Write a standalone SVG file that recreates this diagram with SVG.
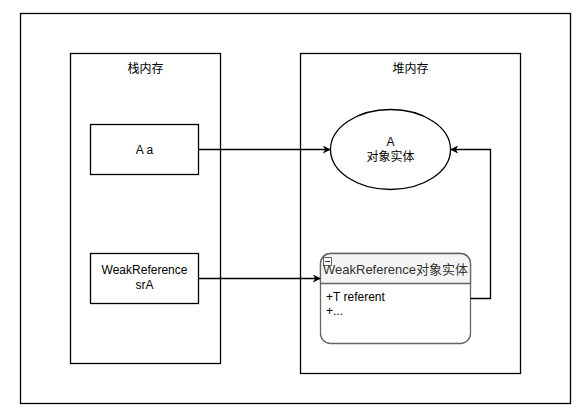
<svg xmlns="http://www.w3.org/2000/svg" width="587" height="413" viewBox="0 0 587 413">
<defs>
<style>
.box{fill:#fff;stroke:#000;stroke-width:1.3}
.t{font-family:"Liberation Sans","Noto Sans CJK SC",sans-serif;font-size:12px;fill:#000;text-anchor:middle}
.edge{fill:none;stroke:#000;stroke-width:1.3}
</style>
<marker id="arr" viewBox="0 0 10 10" refX="9" refY="5" markerWidth="8" markerHeight="8" markerUnits="userSpaceOnUse" orient="auto">
<path d="M0,0 L10,5 L0,10 L3,5 Z" fill="#000"/>
</marker>
</defs>
<rect width="587" height="413" fill="#fff"/>
<g id="outer"><rect class="box" x="20.5" y="13.5" width="550" height="390"/></g>
<g id="stack"><rect class="box" x="70.5" y="53.5" width="150" height="310"/><text class="t" x="145.5" y="73">栈内存</text></g>
<g id="heap"><rect class="box" x="300.5" y="53.5" width="220" height="320"/><text class="t" x="410.5" y="73">堆内存</text></g>
<g id="aa"><rect class="box" x="90.5" y="124.5" width="108" height="50"/><text class="t" x="144.5" y="154">A a</text></g>
<g id="wr"><rect class="box" x="90.5" y="253.5" width="108" height="50"/><text class="t" x="144.5" y="274">WeakReference</text><text class="t" x="144.5" y="289">srA</text></g>
<g id="aobj"><ellipse cx="390.5" cy="149.5" rx="60" ry="40" fill="#fff" stroke="#000" stroke-width="1.3"/><text class="t" x="390.5" y="146">A</text><text class="t" x="390.5" y="161">对象实体</text></g>
<g id="wrobj">
<rect x="320.5" y="253.5" width="150" height="90" rx="10" ry="10" fill="#fff" stroke="#666" stroke-width="1.3"/>
<path d="M320.5,283.5 V263.5 A10,10 0 0 1 330.5,253.5 H460.5 A10,10 0 0 1 470.5,263.5 V283.5 Z" fill="#f5f5f5" stroke="#666" stroke-width="1.3"/>
<rect x="323.5" y="257.5" width="8" height="8" fill="#fff" stroke="#666" stroke-width="1"/>
<line x1="325" y1="261.5" x2="330" y2="261.5" stroke="#333" stroke-width="1"/>
<text class="t" x="395.5" y="274" style="font-size:13px;fill:#333">WeakReference对象实体</text>
<text class="t" x="326" y="301" style="text-anchor:start">+T referent</text>
<text class="t" x="326" y="315" style="text-anchor:start">+...</text>
</g>
<g id="connectors">
<path class="edge" d="M198.5,149.5 H330" marker-end="url(#arr)"/>
<path class="edge" d="M198.5,278.5 H320" marker-end="url(#arr)"/>
<path class="edge" d="M470.5,298.5 H490.5 V149.5 H451" marker-end="url(#arr)"/>
</g>
</svg>
